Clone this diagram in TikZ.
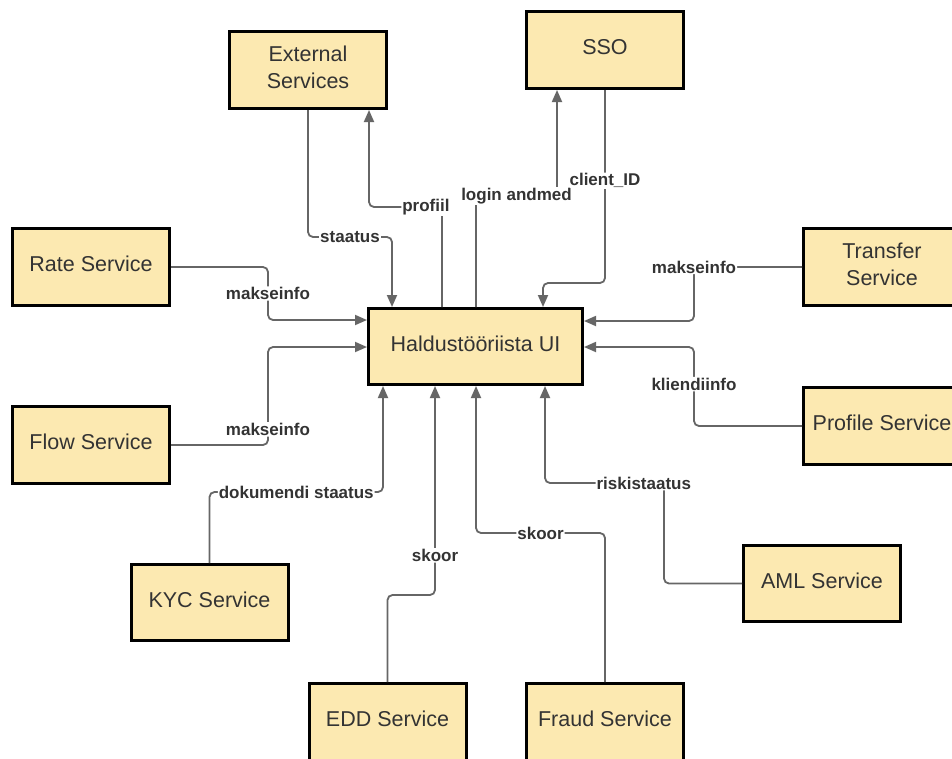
\documentclass[tikz,border=0pt]{standalone}
\usepackage{fontspec}
\setmainfont{Liberation Sans}
\usetikzlibrary{arrows.meta}
\definecolor{boxfill}{RGB}{252,233,177}
\definecolor{wire}{RGB}{102,102,102}
\definecolor{ink}{RGB}{51,51,51}
\tikzset{
  svc/.style={draw=black, line width=3pt, fill=boxfill, minimum width=157pt,
    minimum height=77pt, inner sep=0pt, align=center, text=ink, text depth=6pt,
    font=\fontsize{21.5}{27}\selectfont},
  conn/.style={draw=wire, line width=1.8pt, rounded corners=5pt},
  arr/.style={conn, -{Triangle[length=12pt,width=10pt]}},
  lbl/.style={fill=white, inner sep=1pt, text=ink,
    font=\bfseries\fontsize{17}{20}\selectfont}
}
\begin{document}
\begin{tikzpicture}[x=1pt,y=-1pt]
  \clip (0,0) rectangle (952,758);
  \fill[white] (0,0) rectangle (952,758);

  % service boxes
  \node[svc] (ext) at (308,70) {External\\Services};
  \node[svc] (sso) at (605,50) {SSO};
  \node[svc] (rate) at (91,267) {Rate Service};
  \node[svc] (flow) at (91,445) {Flow Service};
  \node[svc, minimum width=214pt, minimum height=76pt] (ui) at (475.5,346.5) {Haldustööriista UI};
  \node[svc] (transfer) at (882,267) {Transfer\\Service};
  \node[svc] (profile) at (882,426) {Profile Service};
  \node[svc, minimum height=76pt] (aml) at (822,583.5) {AML Service};
  \node[svc, minimum height=76pt] (kyc) at (209.5,602.5) {KYC Service};
  \node[svc] (edd) at (387.5,722) {EDD Service};
  \node[svc] (fraud) at (605,722) {Fraud Service};

  % top connectors
  \draw[arr] (ext.south) -- (308,237) -- node[lbl] {staatus} (392,237) -- (392,0 |- ui.north);
  \draw[arr] (442,0 |- ui.north) -- (442,207) -- node[lbl, pos=0.22] {profiil} (369,207) -- (369,0 |- ext.south);
  \draw[arr] (476,0 |- ui.north) -- (476,196) -- node[lbl] {login andmed} (557,196) -- (557,0 |- sso.south);
  \draw[arr] (sso.south) -- node[lbl, pos=0.47] {client\_ID} (605,283) -- (543,283) -- (543,0 |- ui.north);

  % left connectors
  \draw[arr] (rate.east) -- (268,267) -- node[lbl] {makseinfo} (268,320) -- (ui.west |- 0,320);
  \draw[arr] (flow.east) -- (268,445) -- node[lbl, pos=0.16] {makseinfo} (268,347) -- (ui.west |- 0,347);

  % bottom connectors
  \draw[arr] (kyc.north) -- (209.5,492) -- node[lbl] {dokumendi staatus} (383,492) -- (383,0 |- ui.south);
  \draw[arr] (edd.north) -- (387.5,595) -- (435,595) -- node[lbl, pos=0.19] {skoor} (435,0 |- ui.south);
  \draw[arr] (fraud.north) -- (605,533) -- node[lbl] {skoor} (476,533) -- (476,0 |- ui.south);
  \draw[arr] (aml.west) -- (664,583.5) -- (664,483) -- node[lbl, pos=0.17] {riskistaatus} (545,483) -- (545,0 |- ui.south);

  % right connectors
  \draw[arr] (transfer.west) -- node[lbl, pos=1] {makseinfo} (694,267) -- (694,321) -- (ui.east |- 0,321);
  \draw[arr] (profile.west) -- (694,426) -- node[lbl, pos=0.53] {kliendiinfo} (694,347) -- (ui.east |- 0,347);
\end{tikzpicture}
\end{document}
